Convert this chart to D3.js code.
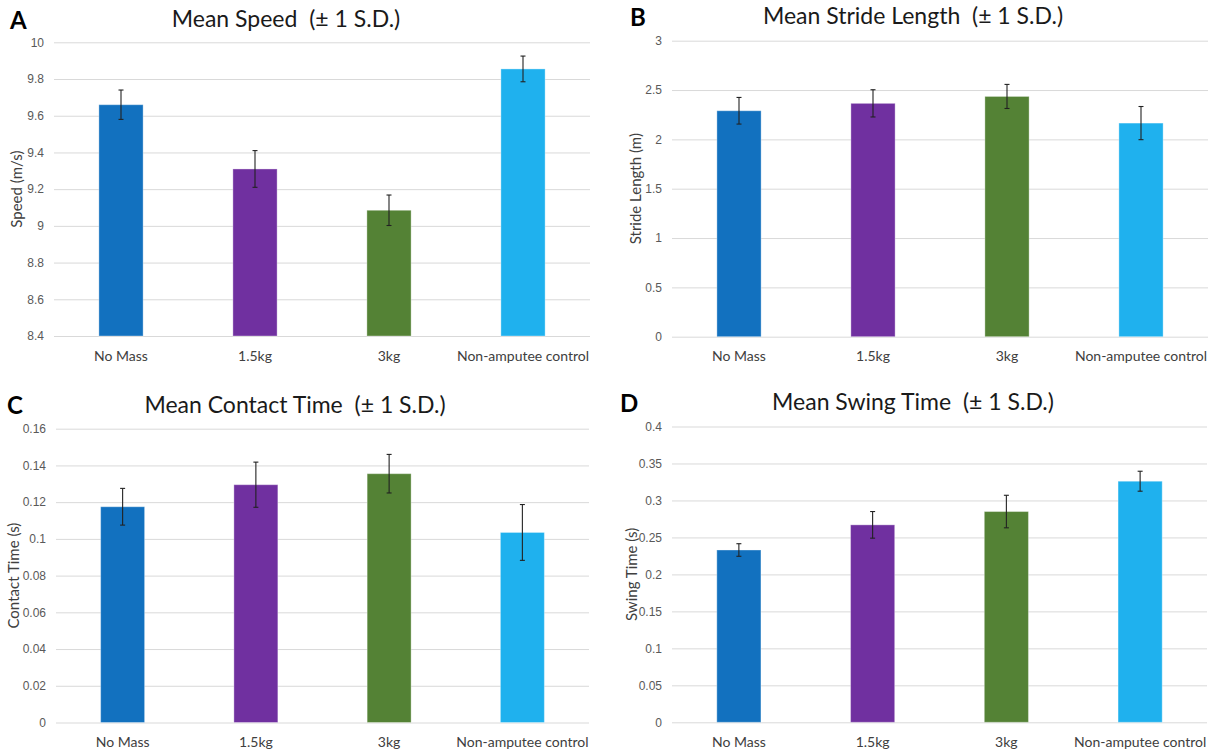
<!DOCTYPE html>
<html>
<head>
<meta charset="utf-8">
<script src="https://cdn.jsdelivr.net/npm/d3@7/dist/d3.min.js"></script>
<style>
  body { margin: 0; background: #fff; }
  svg { display: block; font-family: Lato, "Open Sans", sans-serif; }
</style>
</head>
<body>
<svg id="chart" width="1211" height="752"></svg>
<script>
const categories = ['No Mass', '1.5kg', '3kg', 'Non-amputee control'];
const barColors = ['#1271bf', '#7030a0', '#548235', '#1fb1ee'];

const speedMean = [9.66, 9.31, 9.085, 9.855];
const speedSD = [0.08, 0.10, 0.083, 0.07];
const speedTicks = [8.4, 8.6, 8.8, 9, 9.2, 9.4, 9.6, 9.8, 10];

const strideMean = [2.29, 2.365, 2.435, 2.165];
const strideSD = [0.135, 0.138, 0.122, 0.168];
const strideTicks = [0, 0.5, 1, 1.5, 2, 2.5, 3];

const contactMean = [0.1175, 0.1295, 0.1355, 0.1035];
const contactSD = [0.0100, 0.0123, 0.0105, 0.0152];
const contactTicks = [0, 0.02, 0.04, 0.06, 0.08, 0.1, 0.12, 0.14, 0.16];

const swingMean = [0.233, 0.267, 0.285, 0.326];
const swingSD = [0.0085, 0.018, 0.022, 0.0135];
const swingTicks = [0, 0.05, 0.1, 0.15, 0.2, 0.25, 0.3, 0.35, 0.4];

const panels = [
  { letter: 'A', title: 'Mean Speed  (\u00b1 1 S.D.)', yLabel: 'Speed (m/s)',
    mean: speedMean, sd: speedSD, ticks: speedTicks,
    x0: 54, x1: 590, yTop: 42.3, yBot: 336,
    letterX: 10, letterY: 29, titleX: 286, titleY: 27, yLabelX: 22, xLabelY: 361 },
  { letter: 'B', title: 'Mean Stride Length  (\u00b1 1 S.D.)', yLabel: 'Stride Length (m)',
    mean: strideMean, sd: strideSD, ticks: strideTicks,
    x0: 672, x1: 1208, yTop: 40.7, yBot: 336.7,
    letterX: 630, letterY: 26, titleX: 913, titleY: 24, yLabelX: 641, xLabelY: 361 },
  { letter: 'C', title: 'Mean Contact Time  (\u00b1 1 S.D.)', yLabel: 'Contact Time (s)',
    mean: contactMean, sd: contactSD, ticks: contactTicks,
    x0: 56, x1: 589, yTop: 428.7, yBot: 722.5,
    letterX: 7, letterY: 414, titleX: 295, titleY: 413, yLabelX: 19, xLabelY: 747 },
  { letter: 'D', title: 'Mean Swing Time  (\u00b1 1 S.D.)', yLabel: 'Swing Time (s)',
    mean: swingMean, sd: swingSD, ticks: swingTicks,
    x0: 672, x1: 1207, yTop: 426.5, yBot: 722.3,
    letterX: 620, letterY: 412, titleX: 913, titleY: 410, yLabelX: 637, xLabelY: 747 }
];

const svg = d3.select('#chart');

panels.forEach((p) => {
  const g = svg.append('g');
  const x = d3.scaleBand().domain(categories).range([p.x0, p.x1]).padding(0);
  const y = d3.scaleLinear()
    .domain([p.ticks[0], p.ticks[p.ticks.length - 1]])
    .range([p.yBot, p.yTop]);
  const barW = x.bandwidth() * 0.33;

  // gridlines + tick labels
  const yAxis = d3.axisLeft(y)
    .tickValues(p.ticks)
    .tickSize(-(p.x1 - p.x0))
    .tickPadding(10)
    .tickFormat((d) => String(+d.toFixed(3)));
  const ax = g.append('g')
    .attr('transform', `translate(${p.x0},0)`)
    .call(yAxis);
  ax.select('.domain').remove();
  ax.selectAll('.tick line').attr('stroke', '#d9d9d9').attr('stroke-width', 1);
  ax.selectAll('.tick text')
    .attr('fill', '#595959')
    .style('font-size', '12px');

  // bars
  g.selectAll('rect.bar')
    .data(p.mean)
    .enter()
    .append('rect')
    .attr('class', 'bar')
    .attr('x', (d, i) => x(categories[i]) + x.bandwidth() / 2 - barW / 2)
    .attr('width', barW)
    .attr('y', (d) => y(d))
    .attr('height', (d) => y(p.ticks[0]) - y(d))
    .attr('fill', (d, i) => barColors[i])
    .attr('stroke', 'rgba(255,255,255,0.35)')
    .attr('stroke-width', 1);

  // error bars
  const err = g.selectAll('g.err')
    .data(p.mean)
    .enter()
    .append('g')
    .attr('class', 'err')
    .attr('stroke', '#222')
    .attr('stroke-width', 1.1);
  const cx = (i) => x(categories[i]) + x.bandwidth() / 2;
  err.append('line')
    .attr('x1', (d, i) => cx(i)).attr('x2', (d, i) => cx(i))
    .attr('y1', (d, i) => y(d - p.sd[i])).attr('y2', (d, i) => y(d + p.sd[i]));
  err.append('line')
    .attr('x1', (d, i) => cx(i) - 2.5).attr('x2', (d, i) => cx(i) + 2.5)
    .attr('y1', (d, i) => y(d + p.sd[i])).attr('y2', (d, i) => y(d + p.sd[i]));
  err.append('line')
    .attr('x1', (d, i) => cx(i) - 2.5).attr('x2', (d, i) => cx(i) + 2.5)
    .attr('y1', (d, i) => y(d - p.sd[i])).attr('y2', (d, i) => y(d - p.sd[i]));

  // category labels
  g.selectAll('text.cat')
    .data(categories)
    .enter()
    .append('text')
    .attr('class', 'cat')
    .attr('x', (d) => x(d) + x.bandwidth() / 2)
    .attr('y', p.xLabelY)
    .attr('text-anchor', 'middle')
    .attr('fill', '#404040')
    .style('font-size', '14px')
    .text((d) => d);

  // y label
  g.append('text')
    .attr('transform', `translate(${p.yLabelX},${(p.yTop + p.yBot) / 2}) rotate(-90)`)
    .attr('text-anchor', 'middle')
    .attr('fill', '#404040')
    .style('font-size', '15px')
    .text(p.yLabel);

  // title
  g.append('text')
    .attr('x', p.titleX)
    .attr('y', p.titleY)
    .attr('text-anchor', 'middle')
    .attr('fill', '#1a1a1a')
    .style('font-size', '23px')
    .style('white-space', 'pre')
    .attr('xml:space', 'preserve')
    .text(p.title);

  // panel letter
  g.append('text')
    .attr('x', p.letterX)
    .attr('y', p.letterY)
    .attr('fill', '#000')
    .style('font-size', '24px')
    .style('font-weight', 'bold')
    .text(p.letter);
});
</script>
</body>
</html>
